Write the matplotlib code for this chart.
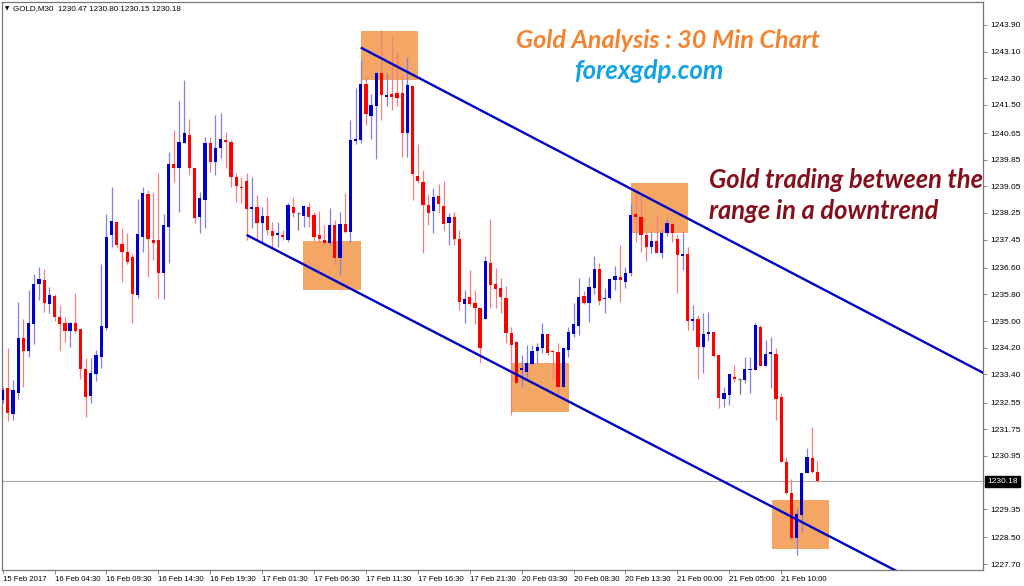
import matplotlib
matplotlib.use("Agg")
import matplotlib.pyplot as plt
from matplotlib.patches import Rectangle
import matplotlib.transforms as mtransforms

# ---------------- data (GOLD, M30) ----------------
opens = [1232.63, 1232.99, 1232.21, 1232.84, 1234.49, 1234.10, 1234.91, 1236.11, 1236.23, 1235.51,
         1235.75, 1235.12, 1234.94, 1234.70, 1234.94, 1234.76, 1233.56, 1232.75, 1233.41, 1233.92,
         1234.79, 1237.59, 1237.98, 1237.32, 1237.08, 1236.93, 1235.78, 1237.53, 1238.82, 1237.44,
         1237.44, 1236.45, 1237.83, 1239.72, 1239.60, 1240.35, 1240.59, 1239.60, 1238.13, 1238.64,
         1240.35, 1239.78, 1240.20, 1240.44, 1240.38, 1239.33, 1239.03, 1239.21, 1238.37, 1238.43,
         1237.95, 1238.16, 1237.71, 1237.59, 1237.59, 1237.44, 1238.43, 1238.25, 1238.16, 1238.43,
         1238.19, 1237.59, 1237.44, 1237.35, 1237.89, 1236.90, 1237.92, 1237.68, 1240.41, 1240.44,
         1242.13, 1241.16, 1241.47, 1242.46, 1241.74, 1241.83, 1241.86, 1241.86, 1240.65, 1242.07,
         1239.36, 1239.18, 1238.49, 1238.31, 1238.76, 1238.46, 1237.95, 1238.13, 1237.47, 1235.51,
         1235.72, 1235.54, 1235.39, 1235.06, 1236.75, 1236.11, 1235.99, 1235.69, 1234.64, 1234.37,
         1233.53, 1233.47, 1233.71, 1234.10, 1234.19, 1234.61, 1234.10, 1234.07, 1233.02, 1234.13,
         1234.61, 1234.85, 1235.75, 1235.54, 1235.99, 1236.57, 1235.66, 1235.69, 1236.23, 1236.32,
         1236.17, 1236.45, 1238.22, 1238.13, 1237.59, 1237.23, 1237.41, 1237.05, 1237.65, 1237.92,
         1237.47, 1236.96, 1237.02, 1235.00, 1235.06, 1234.22, 1234.61, 1234.67, 1233.98, 1232.66,
         1232.78, 1233.32, 1233.26, 1233.23, 1233.53, 1233.53, 1234.82, 1233.65, 1234.01, 1234.01,
         1232.72, 1230.76, 1229.83, 1228.48, 1229.17, 1230.43, 1230.88, 1230.47]
highs = [1233.02, 1234.19, 1233.23, 1235.57, 1235.06, 1235.93, 1236.42, 1236.63, 1236.57, 1236.02,
         1235.81, 1235.48, 1235.12, 1234.97, 1235.84, 1234.76, 1233.89, 1233.89, 1234.13, 1236.72,
         1238.22, 1239.03, 1238.01, 1237.80, 1237.65, 1237.02, 1238.67, 1239.03, 1238.94, 1238.85,
         1239.45, 1238.22, 1240.08, 1240.74, 1241.62, 1242.25, 1241.07, 1239.60, 1238.88, 1240.53,
         1240.53, 1241.19, 1241.25, 1240.68, 1240.44, 1239.45, 1239.33, 1239.45, 1239.33, 1238.79,
         1238.43, 1238.73, 1237.98, 1237.98, 1237.74, 1238.55, 1238.73, 1238.25, 1238.49, 1238.58,
         1238.28, 1238.31, 1237.89, 1238.40, 1238.04, 1238.28, 1238.85, 1241.04, 1242.01, 1242.85,
         1242.34, 1241.83, 1242.49, 1243.75, 1242.46, 1243.60, 1243.06, 1242.46, 1242.94, 1242.07,
         1240.32, 1239.54, 1238.82, 1239.00, 1239.12, 1239.21, 1238.25, 1238.28, 1237.74, 1235.93,
         1236.54, 1235.93, 1235.39, 1236.96, 1238.07, 1236.60, 1236.29, 1236.05, 1234.82, 1234.40,
         1233.98, 1234.28, 1234.28, 1234.34, 1234.94, 1234.61, 1234.13, 1234.34, 1234.22, 1234.82,
         1235.54, 1236.29, 1235.90, 1236.32, 1236.96, 1236.75, 1235.99, 1236.29, 1236.66, 1237.29,
         1236.63, 1238.55, 1238.85, 1238.85, 1237.68, 1237.68, 1238.19, 1237.74, 1238.07, 1237.98,
         1237.59, 1237.68, 1237.23, 1235.48, 1235.18, 1235.24, 1235.27, 1234.67, 1233.98, 1233.02,
         1233.41, 1233.68, 1233.26, 1233.92, 1233.92, 1234.94, 1234.88, 1234.43, 1234.52, 1234.19,
         1232.84, 1230.91, 1230.25, 1229.38, 1230.43, 1231.18, 1231.82, 1230.80]
lows = [1232.54, 1232.00, 1232.03, 1232.66, 1233.02, 1233.92, 1234.31, 1235.63, 1235.27, 1235.24,
        1235.00, 1234.10, 1234.37, 1234.22, 1234.64, 1233.26, 1232.12, 1232.54, 1233.20, 1233.59,
        1234.73, 1237.23, 1237.20, 1236.17, 1236.72, 1234.94, 1235.69, 1237.08, 1236.32, 1236.84,
        1235.69, 1235.66, 1236.75, 1239.18, 1238.28, 1240.35, 1239.39, 1237.95, 1237.65, 1237.80,
        1239.48, 1239.39, 1239.90, 1239.60, 1239.03, 1238.58, 1238.55, 1237.44, 1237.80, 1237.44,
        1237.38, 1237.59, 1237.23, 1237.23, 1237.44, 1237.38, 1238.13, 1237.74, 1237.83, 1237.83,
        1237.38, 1237.38, 1237.29, 1237.29, 1236.69, 1236.38, 1237.65, 1237.38, 1240.32, 1240.35,
        1240.89, 1240.47, 1239.87, 1241.04, 1241.47, 1241.34, 1241.47, 1239.93, 1239.93, 1238.64,
        1239.15, 1237.05, 1237.89, 1237.65, 1238.25, 1237.71, 1237.29, 1237.29, 1235.33, 1234.94,
        1235.45, 1234.91, 1233.74, 1235.06, 1235.39, 1235.39, 1235.24, 1234.34, 1232.18, 1233.14,
        1233.02, 1233.29, 1233.68, 1233.74, 1234.04, 1233.98, 1233.23, 1232.84, 1233.02, 1233.92,
        1234.52, 1234.58, 1235.51, 1234.97, 1235.81, 1235.48, 1235.24, 1235.66, 1235.93, 1235.57,
        1235.99, 1236.35, 1237.38, 1237.08, 1236.81, 1237.05, 1237.05, 1236.90, 1237.56, 1237.38,
        1235.84, 1236.54, 1234.73, 1234.73, 1233.26, 1233.44, 1234.40, 1233.92, 1232.39, 1232.42,
        1232.48, 1233.17, 1232.81, 1233.14, 1232.84, 1233.53, 1233.65, 1233.65, 1232.99, 1232.03,
        1230.76, 1229.80, 1228.42, 1227.97, 1228.66, 1230.43, 1230.43, 1230.15]
closes = [1232.93, 1232.24, 1232.93, 1234.49, 1234.10, 1234.94, 1236.11, 1236.26, 1235.54, 1235.78,
          1235.12, 1234.91, 1234.70, 1234.94, 1234.70, 1233.56, 1232.72, 1233.44, 1233.98, 1234.85,
          1237.53, 1238.01, 1237.29, 1237.08, 1236.78, 1235.81, 1237.62, 1238.85, 1237.47, 1237.35,
          1236.45, 1237.89, 1239.72, 1239.60, 1240.38, 1240.65, 1239.60, 1238.10, 1238.70, 1240.35,
          1239.78, 1240.20, 1240.47, 1240.38, 1239.33, 1239.06, 1239.00, 1238.37, 1238.43, 1237.95,
          1238.16, 1237.74, 1237.56, 1237.65, 1237.53, 1238.49, 1238.25, 1238.25, 1238.46, 1238.13,
          1237.53, 1237.47, 1237.35, 1237.89, 1236.90, 1237.92, 1237.68, 1240.44, 1240.47, 1242.13,
          1241.22, 1241.50, 1242.46, 1241.80, 1241.80, 1241.74, 1241.71, 1240.65, 1242.10, 1239.42,
          1239.21, 1238.49, 1238.25, 1238.73, 1238.52, 1237.92, 1238.13, 1237.47, 1235.57, 1235.66,
          1235.51, 1235.39, 1234.19, 1236.81, 1236.08, 1235.96, 1235.72, 1234.64, 1234.28, 1233.14,
          1233.59, 1233.74, 1234.10, 1234.22, 1234.61, 1234.04, 1234.07, 1233.02, 1234.19, 1234.67,
          1234.91, 1235.72, 1235.54, 1236.02, 1236.57, 1235.60, 1235.69, 1236.26, 1236.35, 1236.23,
          1236.45, 1238.19, 1238.13, 1237.59, 1237.23, 1237.41, 1237.05, 1237.65, 1237.95, 1237.65,
          1236.99, 1237.02, 1235.00, 1235.06, 1234.22, 1234.61, 1234.67, 1233.95, 1232.69, 1232.84,
          1233.41, 1233.26, 1233.26, 1233.56, 1233.56, 1234.88, 1233.65, 1234.01, 1234.07, 1232.66,
          1230.76, 1229.83, 1228.48, 1229.20, 1230.43, 1230.91, 1230.46, 1230.18]

x_tick_bars = [0, 10, 20, 30, 40, 50, 60, 70, 80, 90, 100, 110, 120, 130, 140, 150]
x_tick_labels = ["15 Feb 2017", "16 Feb 04:30", "16 Feb 09:30", "16 Feb 14:30", "16 Feb 19:30",
                 "17 Feb 01:30", "17 Feb 06:30", "17 Feb 11:30", "17 Feb 16:30", "17 Feb 21:30",
                 "20 Feb 03:30", "20 Feb 08:30", "20 Feb 13:30", "21 Feb 00:00", "21 Feb 05:00",
                 "21 Feb 10:00"]
y_tick_values = [1243.90, 1243.10, 1242.30, 1241.50, 1240.65, 1239.85, 1239.05, 1238.25, 1237.45,
                 1236.60, 1235.80, 1235.00, 1234.20, 1233.40, 1232.55, 1231.75, 1230.95, 1229.35,
                 1228.50, 1227.70]
last_price = 1230.18

# highlight boxes (bar index range, price range)
box_x0 = [69.0, 57.9, 98.1, 121.1, 148.2]
box_x1 = [80.0, 69.0, 109.1, 132.1, 159.2]
box_top = [1243.72, 1237.41, 1233.75, 1239.16, 1229.62]
box_bottom = [1242.25, 1235.93, 1232.28, 1237.65, 1228.15]

# channel lines: (bar, price) start and end
upper_line_x = [69.0, 195.0]
upper_line_y = [1243.22, 1232.95]
lower_line_x = [47.0, 185.0]
lower_line_y = [1237.59, 1226.46]

# ---------------- figure ----------------
W, H = 1024, 586
fig = plt.figure(figsize=(W / 100, H / 100), dpi=100)
fig.patch.set_facecolor("white")
ax = fig.add_axes([2 / W, (H - 570) / H, (983 - 2) / W, (570 - 2) / H])
ax.set_xlim(-0.12, 188.9)
ax.set_ylim(1227.52, 1244.59)

RED, BLUE = "#FF0000", "#0000CC"
RED_W, BLUE_W, GREY = "#F28080", "#8080E8", "#707070"

for x0, x1, t, b in zip(box_x0, box_x1, box_top, box_bottom):
    ax.add_patch(Rectangle((x0, b), x1 - x0, t - b, facecolor="#F4A664",
                           edgecolor="none", zorder=1))

for i, (o, h, l, c) in enumerate(zip(opens, highs, lows, closes)):
    if c > o:
        col, wcol = BLUE, BLUE_W
    elif c < o:
        col, wcol = RED, RED_W
    else:
        col, wcol = GREY, GREY
    ax.vlines(i, l, h, color=wcol, linewidth=0.9, zorder=2)
    if c == o:
        ax.hlines(o, i - 0.3, i + 0.3, color=col, linewidth=1.0, zorder=3)
    else:
        ax.bar(i, abs(c - o), bottom=min(o, c), width=0.62, color=col,
               linewidth=0, zorder=3)

ax.plot(upper_line_x, upper_line_y, color="#0000C8", linewidth=1.7, zorder=4,
        solid_capstyle="butt")
ax.plot(lower_line_x, lower_line_y, color="#0000C8", linewidth=1.7, zorder=4,
        solid_capstyle="butt")

ax.axhline(last_price, color="#A8A8A8", linewidth=0.8, zorder=1.5)

# axes styling
for s in ax.spines.values():
    s.set_color("#777777")
    s.set_linewidth(0.9)
tick_font = dict(family=["Liberation Sans", "DejaVu Sans"], size=5.6)
ytick_font = dict(family=["Liberation Sans", "DejaVu Sans"], size=6.0)
ax.yaxis.tick_right()
ax.set_yticks(y_tick_values)
ax.set_yticklabels([f"{v:.2f}" for v in y_tick_values], **ytick_font)
ax.tick_params(axis="y", direction="out", length=3, width=0.6, color="#777777", pad=2)
ax.set_xticks(x_tick_bars)
ax.set_xticklabels(x_tick_labels, ha="left", **tick_font)
ax.tick_params(axis="x", direction="out", length=3, width=0.6, color="#777777", pad=1.5)

# current price label
trans = mtransforms.blended_transform_factory(ax.transAxes, ax.transData)
ax.text(1.004, last_price, f"{last_price:.2f}", transform=trans, ha="left", va="center",
        color="white", fontsize=6.0, family=["Liberation Sans", "DejaVu Sans"],
        bbox=dict(boxstyle="square,pad=0.25", facecolor="black", edgecolor="black"),
        zorder=10, clip_on=False)

# header
fig.text(5 / W, 1 - 9 / H, "\u25BC", fontsize=4, family=["DejaVu Sans"], va="center", ha="left")
fig.text(13 / W, 1 - 9 / H, "GOLD,M30  1230.47 1230.80 1230.15 1230.18", fontsize=5.8,
         family=["Liberation Sans", "DejaVu Sans"], va="center", ha="left")

# annotations
title_font = dict(family=["Lato", "DejaVu Sans"], style="italic", weight="bold")
fig.text(668 / W, 1 - 40 / H, "Gold Analysis : 30 Min Chart", color="#F4832F",
         fontsize=18.2, ha="center", va="center", **title_font)
fig.text(649 / W, 1 - 71 / H, "forexgdp.com", color="#12A2E3",
         fontsize=18.6, ha="center", va="center", **title_font)
fig.text(709 / W, 1 - 180 / H, "Gold trading between the", color="#85101C",
         fontsize=18.4, ha="left", va="center", **title_font)
fig.text(709 / W, 1 - 211 / H, "range in a downtrend", color="#85101C",
         fontsize=18.4, ha="left", va="center", **title_font)

fig.savefig("out.png", dpi=100, facecolor="white")
